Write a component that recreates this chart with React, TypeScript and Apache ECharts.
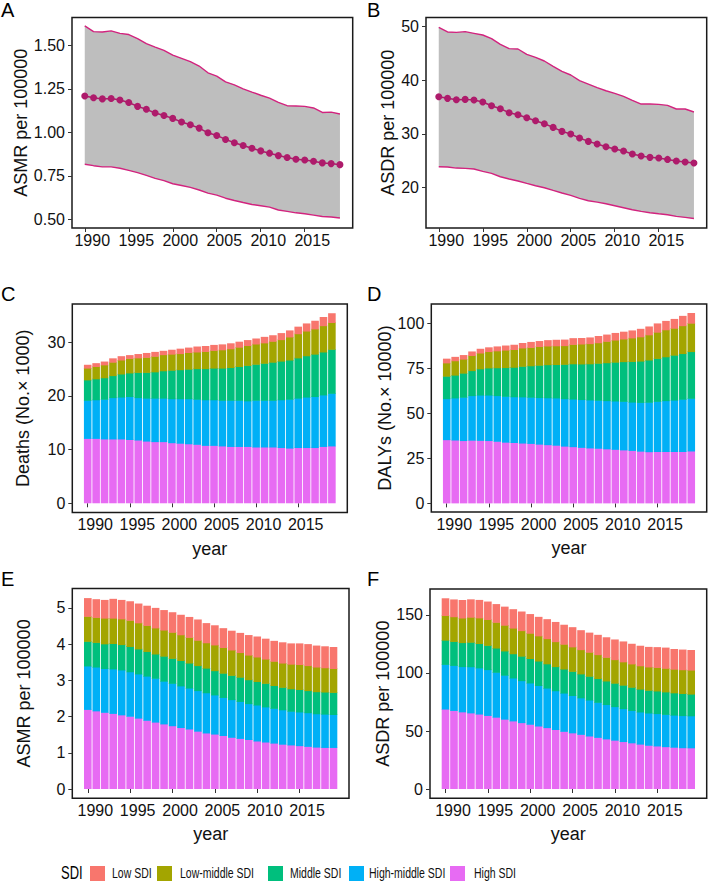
import React, { useEffect, useRef } from "react";
import * as echarts from "echarts";

const FONT = "'Liberation Sans', Arial, Helvetica, sans-serif";

const years = [1990, 1991, 1992, 1993, 1994, 1995, 1996, 1997, 1998, 1999, 2000, 2001, 2002, 2003, 2004, 2005, 2006, 2007, 2008, 2009, 2010, 2011, 2012, 2013, 2014, 2015, 2016, 2017, 2018, 2019];
const xTicks = [1990, 1995, 2000, 2005, 2010, 2015];

// Panel A: ASMR with uncertainty interval
const asmrMean = [1.209, 1.199, 1.192, 1.194, 1.186, 1.171, 1.149, 1.132, 1.111, 1.097, 1.08, 1.059, 1.043, 1.024, 0.997, 0.982, 0.959, 0.94, 0.924, 0.908, 0.893, 0.88, 0.866, 0.855, 0.845, 0.841, 0.833, 0.824, 0.82, 0.814];
const asmrUpper = [1.612, 1.579, 1.577, 1.583, 1.569, 1.562, 1.539, 1.51, 1.49, 1.471, 1.444, 1.425, 1.406, 1.381, 1.342, 1.323, 1.29, 1.273, 1.25, 1.231, 1.213, 1.196, 1.172, 1.153, 1.151, 1.149, 1.14, 1.114, 1.116, 1.105];
const asmrLower = [0.816, 0.808, 0.801, 0.801, 0.793, 0.781, 0.768, 0.752, 0.735, 0.722, 0.704, 0.694, 0.683, 0.668, 0.65, 0.639, 0.621, 0.608, 0.596, 0.585, 0.578, 0.57, 0.553, 0.545, 0.537, 0.532, 0.524, 0.516, 0.513, 0.507];

// Panel B: ASDR with uncertainty interval
const asdrMean = [36.92, 36.61, 36.36, 36.42, 36.3, 35.93, 35.24, 34.69, 33.94, 33.57, 33.01, 32.46, 31.9, 31.21, 30.47, 29.97, 29.23, 28.61, 28.12, 27.62, 27.19, 26.81, 26.26, 25.88, 25.64, 25.51, 25.26, 24.95, 24.77, 24.58];
const asdrUpper = [49.81, 48.95, 48.88, 49.01, 48.7, 48.39, 47.71, 46.65, 45.85, 45.78, 44.79, 44.23, 43.55, 42.56, 41.63, 40.95, 39.89, 39.27, 38.59, 38.03, 37.54, 36.98, 36.24, 35.55, 35.55, 35.49, 35.31, 34.63, 34.63, 34.07];
const asdrLower = [23.9, 23.84, 23.65, 23.59, 23.47, 23.04, 22.67, 22.04, 21.61, 21.24, 20.8, 20.37, 20.0, 19.5, 19.01, 18.57, 18.02, 17.58, 17.33, 17.02, 16.65, 16.28, 15.91, 15.6, 15.35, 15.16, 14.98, 14.67, 14.48, 14.28];

const sdiLevels = ["Low SDI", "Low-middle SDI", "Middle SDI", "High-middle SDI", "High SDI"];
const sdiColors = ["#F8766D", "#A3A500", "#00BF7D", "#00B0F6", "#E76BF3"];

// Panel C: Deaths (No. x 1000) by SDI
const deathsLow = [0.6, 0.6, 0.6, 0.7, 0.7, 0.6, 0.7, 0.8, 0.8, 0.7, 0.8, 0.9, 0.9, 1.0, 1.0, 1.0, 1.0, 1.0, 1.0, 1.0, 1.0, 1.1, 1.1, 1.2, 1.2, 1.3, 1.4, 1.5, 1.6, 1.7];
const deathsLowMiddle = [2.2, 2.3, 2.4, 2.5, 2.6, 2.7, 2.7, 2.8, 2.9, 3.0, 3.0, 3.0, 3.1, 3.1, 3.2, 3.3, 3.4, 3.5, 3.6, 3.7, 3.8, 3.8, 3.9, 4.0, 4.3, 4.5, 4.6, 4.7, 4.9, 5.0];
const deathsMiddle = [3.8, 3.9, 4.0, 4.1, 4.3, 4.4, 4.7, 4.8, 4.9, 5.1, 5.3, 5.4, 5.5, 5.7, 5.8, 5.9, 6.0, 6.1, 6.3, 6.6, 6.7, 6.9, 7.1, 7.2, 7.3, 7.5, 7.7, 7.9, 8.0, 8.2];
const deathsHighMiddle = [7.1, 7.2, 7.4, 7.7, 7.8, 8.0, 7.9, 8.0, 8.1, 8.1, 8.2, 8.3, 8.4, 8.4, 8.5, 8.5, 8.5, 8.6, 8.6, 8.5, 8.7, 8.7, 8.7, 8.9, 9.1, 9.2, 9.4, 9.5, 9.6, 9.8];
const deathsHigh = [12.1, 12.1, 12.0, 12.0, 12.0, 11.9, 11.8, 11.6, 11.5, 11.5, 11.3, 11.2, 11.1, 11.0, 10.8, 10.8, 10.7, 10.6, 10.6, 10.6, 10.5, 10.5, 10.5, 10.4, 10.3, 10.4, 10.4, 10.4, 10.6, 10.7];

// Panel D: DALYs (No. x 10000) by SDI
const dalysLow = [2.3, 2.1, 2.2, 2.2, 2.3, 2.3, 2.4, 2.5, 2.6, 2.7, 3.0, 3.0, 3.2, 3.3, 3.3, 3.4, 3.3, 3.4, 3.7, 3.7, 3.9, 4.0, 4.1, 4.4, 4.6, 4.8, 4.9, 5.1, 5.4, 5.6];
const dalysLowMiddle = [7.4, 8.0, 7.8, 8.4, 8.8, 9.1, 9.4, 9.7, 9.8, 10.2, 10.2, 10.4, 10.4, 10.4, 10.4, 10.8, 11.1, 11.2, 11.4, 11.9, 12.3, 12.6, 13.1, 13.5, 14.0, 14.6, 15.0, 15.0, 15.5, 15.8];
const dalysMiddle = [12.5, 12.7, 13.4, 13.9, 14.6, 15.1, 15.5, 16.0, 16.4, 17.0, 17.5, 18.0, 18.4, 18.6, 19.1, 19.6, 19.8, 20.1, 20.6, 21.1, 21.6, 22.1, 22.6, 23.0, 23.5, 23.9, 24.4, 25.0, 25.4, 26.0];
const dalysHighMiddle = [22.8, 23.4, 24.1, 24.8, 25.2, 25.3, 25.4, 25.5, 25.5, 25.7, 25.7, 25.9, 26.1, 26.3, 26.4, 26.5, 26.6, 26.7, 26.7, 26.8, 26.9, 27.0, 26.9, 27.1, 27.5, 27.9, 28.3, 28.6, 29.1, 29.3];
const dalysHigh = [35.5, 35.3, 35.0, 35.2, 35.1, 35.0, 34.6, 34.1, 33.9, 33.6, 33.4, 33.0, 32.7, 32.4, 31.9, 31.6, 31.2, 30.9, 30.7, 30.4, 30.1, 29.8, 29.5, 29.1, 28.8, 28.9, 28.9, 28.9, 28.9, 29.2];

// Panel E: ASMR per 100000 by SDI
const asmrLow = [0.5, 0.5, 0.5, 0.53, 0.52, 0.52, 0.53, 0.54, 0.55, 0.55, 0.55, 0.55, 0.56, 0.57, 0.54, 0.54, 0.53, 0.53, 0.54, 0.55, 0.56, 0.56, 0.56, 0.57, 0.57, 0.58, 0.59, 0.59, 0.59, 0.59];
const asmrLowMiddle = [0.69, 0.69, 0.71, 0.7, 0.71, 0.72, 0.72, 0.72, 0.72, 0.72, 0.72, 0.71, 0.71, 0.7, 0.7, 0.71, 0.71, 0.7, 0.68, 0.68, 0.68, 0.67, 0.67, 0.67, 0.68, 0.69, 0.69, 0.68, 0.67, 0.66];
const asmrMiddle = [0.68, 0.68, 0.68, 0.7, 0.7, 0.7, 0.69, 0.68, 0.67, 0.69, 0.69, 0.7, 0.69, 0.69, 0.68, 0.67, 0.67, 0.67, 0.67, 0.66, 0.65, 0.65, 0.63, 0.62, 0.62, 0.62, 0.61, 0.61, 0.61, 0.61];
const asmrHighMiddle = [1.2, 1.21, 1.21, 1.23, 1.24, 1.23, 1.22, 1.22, 1.21, 1.18, 1.17, 1.15, 1.13, 1.12, 1.11, 1.08, 1.05, 1.04, 1.02, 0.99, 0.99, 0.97, 0.96, 0.95, 0.93, 0.93, 0.93, 0.92, 0.92, 0.91];
const asmrHigh = [2.2, 2.16, 2.12, 2.09, 2.05, 2.01, 1.96, 1.9, 1.85, 1.8, 1.75, 1.7, 1.66, 1.6, 1.55, 1.52, 1.48, 1.43, 1.4, 1.37, 1.33, 1.3, 1.27, 1.24, 1.22, 1.2, 1.18, 1.16, 1.15, 1.15];

// Panel F: ASDR per 100000 by SDI
const asdrLow = [14.7, 14.8, 15.4, 15.3, 15.4, 15.4, 15.6, 15.9, 16.2, 16.4, 16.4, 16.3, 16.7, 16.9, 16.7, 16.9, 16.7, 16.8, 17.0, 17.2, 17.3, 17.5, 17.3, 17.2, 17.2, 17.4, 17.7, 17.3, 17.3, 17.2];
const asdrLowMiddle = [21.3, 21.3, 21.2, 21.6, 22.1, 22.3, 22.2, 22.2, 22.1, 22.0, 21.8, 21.7, 21.7, 21.5, 21.4, 21.1, 20.9, 20.7, 20.6, 20.4, 20.3, 20.1, 20.1, 20.1, 20.1, 20.3, 20.4, 20.4, 20.5, 20.7];
const asdrMiddle = [20.9, 20.7, 20.7, 21.1, 21.0, 20.9, 20.9, 20.9, 20.9, 21.1, 21.1, 21.1, 20.9, 20.8, 20.7, 20.8, 20.6, 20.5, 20.5, 20.3, 20.2, 20.2, 20.0, 19.7, 19.6, 19.5, 19.4, 19.2, 19.0, 18.7];
const asdrHighMiddle = [38.5, 38.8, 39.0, 39.8, 39.8, 39.5, 38.7, 37.9, 37.0, 36.2, 35.6, 34.9, 34.1, 33.4, 33.0, 32.2, 31.5, 31.0, 30.2, 29.6, 28.9, 28.4, 27.9, 27.7, 27.8, 27.9, 27.8, 27.7, 27.7, 27.6];
const asdrHigh = [69.0, 67.8, 66.6, 65.7, 64.7, 63.5, 62.0, 60.3, 58.8, 57.3, 55.9, 54.4, 53.0, 51.4, 49.8, 48.5, 47.2, 45.8, 44.6, 43.3, 42.2, 41.0, 39.9, 38.8, 37.8, 37.2, 36.6, 36.1, 35.7, 35.6];

const ticksA = [0.5, 0.75, 1.0, 1.25, 1.5];
const ticksB = [20, 30, 40, 50];
const ticksC = [0, 10, 20, 30];
const ticksD = [0, 25, 50, 75, 100];
const ticksE = [0, 1, 2, 3, 4, 5];
const ticksF = [0, 50, 100, 150];

const LINE_X: [number, number] = [1988.55, 2020.45];
const BAR_X: [number, number] = [1988.17, 2020.83];
const BAR_WIDTH = 0.9; // in years

type Panel = {
  letter: string;
  grid: { left: number; top: number; width: number; height: number };
  x: [number, number];
  y: [number, number];
  yTicks: number[];
  yName: string;
  nameGap: number;
  xName: string;
  dec: number;
  letterPos: [number, number];
};

const panels: Panel[] = [
  { letter: "A", grid: { left: 72, top: 17.5, width: 280.7, height: 210.5 }, x: LINE_X, y: [0.4497, 1.66], yTicks: ticksA, yName: "ASMR per 100000", nameGap: 38, xName: "", dec: 2, letterPos: [1, 0] },
  { letter: "B", grid: { left: 426, top: 17.5, width: 280.7, height: 210.5 }, x: LINE_X, y: [12.51, 51.64], yTicks: ticksB, yName: "ASDR per 100000", nameGap: 28, xName: "", dec: 0, letterPos: [367, 0] },
  { letter: "C", grid: { left: 72.3, top: 304, width: 275, height: 208.5 }, x: BAR_X, y: [-1.72, 37.12], yTicks: ticksC, yName: "Deaths (No.\u00d7 1000)", nameGap: 40, xName: "year", dec: 0, letterPos: [1, 284] },
  { letter: "D", grid: { left: 431.3, top: 304, width: 275.4, height: 208 }, x: BAR_X, y: [-4.8, 110.9], yTicks: ticksD, yName: "DALYs (No.\u00d7 10000)", nameGap: 35, xName: "year", dec: 0, letterPos: [367, 284] },
  { letter: "E", grid: { left: 72.3, top: 588.5, width: 276.7, height: 209.8 }, x: BAR_X, y: [-0.256, 5.535], yTicks: ticksE, yName: "ASMR per 100000", nameGap: 39, xName: "year", dec: 0, letterPos: [1, 569] },
  { letter: "F", grid: { left: 430, top: 589, width: 276.7, height: 209.3 }, x: BAR_X, y: [-8.0, 172.4], yTicks: ticksF, yName: "ASDR per 100000", nameGap: 34, xName: "year", dec: 0, letterPos: [367, 569] },
];

const BAND_FILL = "#BEBEBE";
const BAND_LINE = "#D2237E";
const MEAN_COLOR = "#AE1B6B";
const TEXT = "#111111";

function pairs(vals: number[]) {
  return years.map((yr, i) => [yr, vals[i]]);
}

function bandSeries(idx: number, mean: number[], upper: number[], lower: number[]) {
  return [
    {
      type: "custom",
      xAxisIndex: idx,
      yAxisIndex: idx,
      silent: true,
      data: [[years[0], upper[0]]],
      renderItem: (_params: any, api: any) => {
        const pts: number[][] = [];
        years.forEach((yr, i) => pts.push(api.coord([yr, upper[i]])));
        for (let i = years.length - 1; i >= 0; i--) pts.push(api.coord([years[i], lower[i]]));
        return { type: "polygon", shape: { points: pts }, style: { fill: BAND_FILL, stroke: "none" } };
      },
    },
    { type: "line", xAxisIndex: idx, yAxisIndex: idx, data: pairs(upper), symbol: "none", lineStyle: { color: BAND_LINE, width: 1.4 } },
    { type: "line", xAxisIndex: idx, yAxisIndex: idx, data: pairs(lower), symbol: "none", lineStyle: { color: BAND_LINE, width: 1.4 } },
    { type: "line", xAxisIndex: idx, yAxisIndex: idx, data: pairs(mean), symbol: "circle", symbolSize: 7, itemStyle: { color: MEAN_COLOR }, lineStyle: { color: MEAN_COLOR, width: 1.5 } },
  ];
}

function barSeries(idx: number, groups: number[][]) {
  // groups in order Low, Low-middle, Middle, High-middle, High; High sits at the bottom of each stack.
  const order = [4, 3, 2, 1, 0];
  let run = years.map(() => 0);
  return order.map((g) => {
    const base = run.slice();
    run = run.map((v, i) => v + groups[g][i]);
    const top = run.slice();
    const color = sdiColors[g];
    return {
      type: "custom",
      name: sdiLevels[g],
      xAxisIndex: idx,
      yAxisIndex: idx,
      data: years.map((yr, i) => [yr, base[i], top[i]]),
      encode: { x: 0, y: [1, 2] },
      renderItem: (_params: any, api: any) => {
        const yr = api.value(0);
        const b = api.value(1);
        const t = api.value(2);
        const p0 = api.coord([yr - BAR_WIDTH / 2, t]);
        const p1 = api.coord([yr + BAR_WIDTH / 2, b]);
        const overlap = b > 0 ? 0.6 : 0;
        return {
          type: "rect",
          shape: { x: p0[0], y: p0[1], width: p1[0] - p0[0], height: p1[1] - p0[1] + overlap },
          style: { fill: color },
        };
      },
    };
  });
}

export default function App() {
  const ref = useRef<HTMLDivElement>(null);

  useEffect(() => {
    if (!ref.current) return;
    const chart = echarts.init(ref.current, null, { renderer: "svg" });

    const grids = panels.map((p) => ({
      ...p.grid,
      show: true,
      borderColor: "#1a1a1a",
      borderWidth: 1.5,
      backgroundColor: "transparent",
      containLabel: false,
      outerBoundsMode: "none",
    }));

    const xAxes = panels.map((p, i) => ({
      type: "value",
      gridIndex: i,
      min: p.x[0],
      max: p.x[1],
      axisLine: { show: false },
      splitLine: { show: false },
      axisTick: { show: true, customValues: xTicks, length: 4, inside: false, lineStyle: { color: "#333", width: 1 } },
      axisLabel: {
        customValues: xTicks,
        fontSize: 16,
        color: TEXT,
        fontFamily: FONT,
        margin: 4,
        padding: [0, 0, 0, 15],
        formatter: (v: number) => String(Math.round(v)),
      },
      name: p.xName,
      nameLocation: "middle",
      nameGap: 27,
      nameTextStyle: { fontSize: 18, color: TEXT, fontFamily: FONT },
    }));

    const yAxes = panels.map((p, i) => ({
      type: "value",
      gridIndex: i,
      min: p.y[0],
      max: p.y[1],
      axisLine: { show: false },
      splitLine: { show: false },
      axisTick: { show: true, customValues: p.yTicks, length: 4, inside: false, lineStyle: { color: "#333", width: 1 } },
      axisLabel: {
        customValues: p.yTicks,
        fontSize: 16,
        color: TEXT,
        fontFamily: FONT,
        margin: 7,
        formatter: (v: number) => v.toFixed(p.dec),
      },
      name: p.yName,
      nameLocation: "middle",
      nameRotate: 90,
      nameGap: p.nameGap,
      nameTextStyle: { fontSize: 18, color: TEXT, fontFamily: FONT },
    }));

    const series = [
      ...bandSeries(0, asmrMean, asmrUpper, asmrLower),
      ...bandSeries(1, asdrMean, asdrUpper, asdrLower),
      ...barSeries(2, [deathsLow, deathsLowMiddle, deathsMiddle, deathsHighMiddle, deathsHigh]),
      ...barSeries(3, [dalysLow, dalysLowMiddle, dalysMiddle, dalysHighMiddle, dalysHigh]),
      ...barSeries(4, [asmrLow, asmrLowMiddle, asmrMiddle, asmrHighMiddle, asmrHigh]),
      ...barSeries(5, [asdrLow, asdrLowMiddle, asdrMiddle, asdrHighMiddle, asdrHigh]),
    ];

    const letters = panels.map((p) => ({
      type: "text",
      x: p.letterPos[0],
      y: p.letterPos[1],
      style: { text: p.letter, fontSize: 20, fontFamily: FONT, fill: "#000", align: "left", verticalAlign: "top" },
    }));

    const legendKeyX = [90, 157, 268, 349, 450];
    const legendTextX = [112, 180, 290, 369, 474];
    const legendY = 873;
    const legendItems: any[] = [
      { type: "text", x: 61, y: legendY, scaleX: 0.72, style: { text: "SDI", fontSize: 18, fontFamily: FONT, fill: "#000", align: "left", verticalAlign: "middle" } },
    ];
    sdiLevels.forEach((lvl, i) => {
      legendItems.push({ type: "rect", shape: { x: legendKeyX[i], y: legendY - 7, width: 15, height: 15 }, style: { fill: sdiColors[i] } });
      legendItems.push({ type: "text", x: legendTextX[i], y: legendY, scaleX: 0.75, style: { text: lvl, fontSize: 14, fontFamily: FONT, fill: "#111", align: "left", verticalAlign: "middle" } });
    });

    chart.setOption({
      animation: false,
      backgroundColor: "#ffffff",
      textStyle: { fontFamily: FONT },
      grid: grids,
      xAxis: xAxes,
      yAxis: yAxes,
      series,
      graphic: [...letters, ...legendItems],
    } as any);

    return () => chart.dispose();
  }, []);

  return <div ref={ref} style={{ position: "absolute", left: 0, top: 0, width: 708, height: 882 }} />;
}
